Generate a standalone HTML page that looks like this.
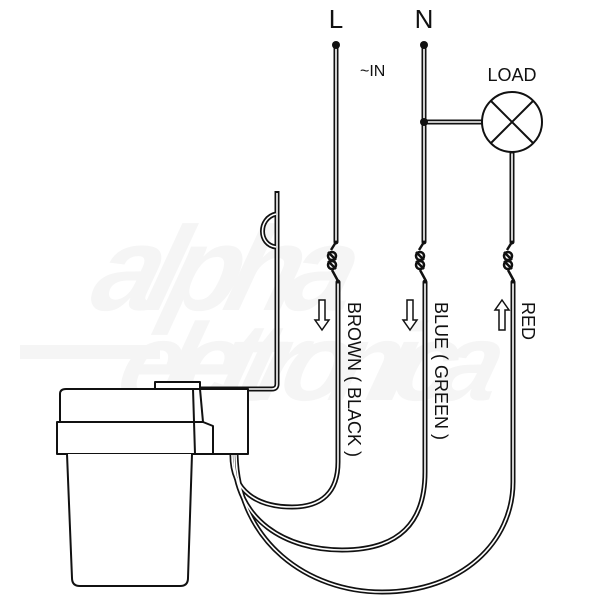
<!DOCTYPE html>
<html><head><style>html,body{margin:0;padding:0;background:#fff}svg{display:block}</style></head>
<body>
<svg width="600" height="600" viewBox="0 0 600 600" xmlns="http://www.w3.org/2000/svg">
<rect width="600" height="600" fill="#fff"/>
<!-- watermark -->
<g fill="#f5f5f5" font-family="'Liberation Sans', sans-serif" font-weight="bold" font-style="italic">
<text x="170" y="310" font-size="120" transform="skewX(-15)" textLength="260">alpha</text>
<text x="220" y="400" font-size="110" transform="skewX(-15)" textLength="380">elettronica</text>
<rect x="20" y="345" width="140" height="14"/>
</g>
<g fill="none" stroke-linecap="round">
<g stroke="#111" stroke-width="5">
<path d="M336,45 V242"/><path d="M424,45 V242"/><path d="M424,122 H483"/><path d="M512,152 V242"/>
</g>
<g stroke="#fff" stroke-width="1.6">
<path d="M336,48 V240"/><path d="M424,48 V240"/><path d="M427,122 H482"/><path d="M512,154 V240"/>
</g>
<g stroke="#111" stroke-width="5">
<path d="M232,455 C232,492 258,507 292,507 C322,507 338,492 338,462 L338,282"/>
<path d="M234,455 C234,522 288,550 342,550 C400,550 425,522 425,472 L425,282"/>
<path d="M236,455 C238,542 308,592 382,592 C462,592 513,542 513,482 L513,282"/>
</g>
<g stroke="#fff" stroke-width="1.6">
<path d="M232,455 C232,492 258,507 292,507 C322,507 338,492 338,462 L338,284"/>
<path d="M234,455 C234,522 288,550 342,550 C400,550 425,522 425,472 L425,284"/>
<path d="M236,455 C238,542 308,592 382,592 C462,592 513,542 513,482 L513,284"/>
</g>
</g>
<circle cx="336" cy="45" r="4" fill="#111"/><circle cx="424" cy="45" r="4" fill="#111"/><circle cx="424" cy="122" r="4" fill="#111"/>
<!-- twists -->
<g fill="none" stroke="#111" stroke-width="2.5">
<g id="tw"><path d="M336,242 L331,250"/><circle cx="332" cy="256" r="4"/><circle cx="332" cy="265" r="4"/><path d="M328,252 L336,260 M328,261 L336,269"/><path d="M332,270 L338,281"/></g>
<use href="#tw" x="88"/><use href="#tw" x="176"/>
</g>
<circle cx="512" cy="122" r="30" fill="#fff" stroke="#111" stroke-width="2"/>
<path d="M491,101 L533,143 M533,101 L491,143" stroke="#111" stroke-width="2"/>
<g font-family="'Liberation Sans', sans-serif" fill="#111">
<text x="336" y="28" font-size="26" text-anchor="middle">L</text>
<text x="424" y="28" font-size="26" text-anchor="middle">N</text>
<text x="360" y="76" font-size="16">~IN</text>
<text x="512" y="81" font-size="18" text-anchor="middle">LOAD</text>
<text transform="translate(348,302) rotate(90)" font-size="18">BROWN ( BLACK )</text>
<text transform="translate(435,302) rotate(90)" font-size="18">BLUE ( GREEN )</text>
<text transform="translate(522,302) rotate(90)" font-size="18">RED</text>
</g>
<g fill="#fff" stroke="#111" stroke-width="1.5">
<path d="M319,300 H325 V320 H329 L322,330 L315,320 H319 Z"/>
<path d="M407,300 H413 V320 H417 L410,330 L403,320 H407 Z"/>
<path d="M499,330 H505 V310 H509 L502,300 L495,310 H499 Z"/>
</g>
<g fill="none" stroke="#111" stroke-width="5" stroke-linejoin="round"><path d="M277,191 V384 Q277,389 272,389 H155"/><path d="M276,214 C258,218 258,245 276,247"/></g>
<g fill="none" stroke="#fff" stroke-width="1.6" stroke-linejoin="round"><path d="M277,193 V384 Q277,389 272,389 H157"/><path d="M276,214 C258,218 258,245 276,247"/></g>
<g fill="#fff" stroke="#111" stroke-width="2" stroke-linejoin="round">
<path d="M155,389 V382 H200 V389"/>
<path d="M60,422 V394 Q60,389 66,389 H248 V454 H195"/>
<path d="M57,422 H203 L213,426 V454 H57 Z"/>
<path d="M193,389 L195,454 M200,389 L203,422"/>
<path d="M67,454 L72,578 Q72,586 80,586 H180 Q188,586 188,578 L192,454"/>
</g>
</svg>
</body></html>
